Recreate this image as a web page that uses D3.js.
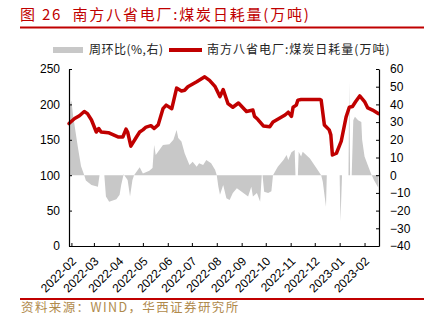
<!DOCTYPE html>
<html><head><meta charset="utf-8">
<script src="https://cdn.jsdelivr.net/npm/d3@7"></script>
<style>
html,body{margin:0;padding:0;background:#fff;}
svg{display:block;}
</style>
</head><body>
<svg id="chart" width="424" height="322"></svg>
<script>
const titleText = "图 26  南方八省电厂:煤炭日耗量(万吨)";
const sourceText = "资料来源：WIND，华西证券研究所";
const legendWow = "周环比(%,右)";
const legendCoal = "南方八省电厂:煤炭日耗量(万吨)";

const leftTicks = [0, 50, 100, 150, 200, 250];
const rightTicks = [-40, -30, -20, -10, 0, 10, 20, 30, 40, 50, 60];
const monthTicks = ["2022-02-01","2022-03-01","2022-04-01","2022-05-01","2022-06-01","2022-07-01","2022-08-01","2022-09-01","2022-10-01","2022-11-01","2022-12-01","2023-01-01","2023-02-01"];

const coalDates = ["2022-01-29","2022-02-05","2022-02-11","2022-02-17","2022-02-21","2022-02-26","2022-03-04","2022-03-07","2022-03-10","2022-03-19","2022-03-31","2022-04-06","2022-04-10","2022-04-12","2022-04-16","2022-04-23","2022-04-27","2022-05-01","2022-05-05","2022-05-11","2022-05-15","2022-05-20","2022-05-26","2022-05-30","2022-06-06","2022-06-12","2022-06-18","2022-06-22","2022-06-26","2022-07-07","2022-07-17","2022-07-23","2022-07-30","2022-08-05","2022-08-09","2022-08-15","2022-08-21","2022-08-28","2022-09-07","2022-09-15","2022-09-17","2022-09-21","2022-09-28","2022-10-06","2022-10-10","2022-10-25","2022-10-29","2022-11-02","2022-11-04","2022-11-08","2022-11-10","2022-11-14","2022-12-07","2022-12-09","2022-12-13","2022-12-19","2022-12-21","2022-12-23","2022-12-28","2023-01-03","2023-01-09","2023-01-13","2023-01-17","2023-01-21","2023-01-26","2023-02-01","2023-02-05","2023-02-11","2023-02-18"];
const coalValues = [173,180,184,190,187,178,161,166,161,160,154,154,165,161,141,154,161,164,168,170,166,171,194,199,194,223,219,220,225,232,239,234,225,211,221,201,196,202,190,192,183,179,169.5,168.5,175,185,189,183,196,199,206,207,207,206,171,164,157,128.5,131,148,182,196,197,204,212,204,195,192,187];

const wowDates = ["2022-01-29","2022-02-01","2022-02-03","2022-02-09","2022-02-13","2022-02-17","2022-02-19","2022-02-26","2022-03-06","2022-03-08","2022-03-14","2022-03-16","2022-03-20","2022-03-29","2022-04-02","2022-04-04","2022-04-07","2022-04-12","2022-04-15","2022-04-18","2022-04-20","2022-04-27","2022-05-01","2022-05-09","2022-05-13","2022-05-15","2022-05-17","2022-05-26","2022-06-03","2022-06-08","2022-06-12","2022-06-14","2022-06-18","2022-06-22","2022-06-28","2022-07-02","2022-07-07","2022-07-10","2022-07-15","2022-07-19","2022-07-25","2022-07-30","2022-08-01","2022-08-03","2022-08-05","2022-08-09","2022-08-13","2022-08-17","2022-08-21","2022-08-26","2022-09-01","2022-09-09","2022-09-13","2022-09-15","2022-09-20","2022-09-24","2022-09-26","2022-09-27","2022-09-29","2022-10-04","2022-10-08","2022-10-10","2022-10-16","2022-10-23","2022-10-27","2022-10-29","2022-11-02","2022-11-06","2022-11-07","2022-11-10","2022-11-11","2022-11-14","2022-11-16","2022-11-25","2022-12-03","2022-12-09","2022-12-11","2022-12-15","2022-12-16","2023-01-01","2023-01-02","2023-01-04","2023-01-12","2023-01-13","2023-01-14","2023-01-16","2023-01-18","2023-01-20","2023-01-24","2023-01-28","2023-01-29","2023-02-01","2023-02-05","2023-02-09","2023-02-13","2023-02-18"];
const wowValues = [38,42,34,16,5,0,-3,-5.5,-6.5,0,0,-12,-15,-13.6,-11,-5.5,0.5,-2.7,-12,-2.7,0,4.5,1,2.5,4,17,11.4,17,17.5,20,25.5,21,19,12.4,5.8,7.6,4.8,6.7,5.8,8.6,6.7,3,0,-6.5,-11,-5.5,-13,-14,-10,-7.4,-9.3,-12,-6.5,-12,-10,-15,0,0,-9.3,-10,-9,0,4.8,8.6,11.4,8.6,13,14.2,0,0,13.3,10.5,13.3,9.5,4,0,-3.7,-17.8,0,0,-26,0,0,53,0,0,31,33,31,30,20,10.5,5.8,1,-3,-7];

const W = 424, H = 322;
const m = {left: 69, right: 379, top: 69, bottom: 246};
const parse = d3.timeParse("%Y-%m-%d");

const svg = d3.select("#chart");
const red = "#c00000";
const axisFont = "'Liberation Sans', Arial, sans-serif";
const cjkFont = "'Noto Sans CJK SC', sans-serif";

const x = d3.scaleTime().domain([parse("2022-01-29"), parse("2023-02-19")]).range([m.left, m.right]);
const yL = d3.scaleLinear().domain([0, 250]).range([m.bottom, m.top]);
const yR = d3.scaleLinear().domain([-40, 60]).range([m.bottom, m.top]);

// title
svg.append("text").attr("x", 20).attr("y", 20)
  .attr("font-family", cjkFont).attr("font-size", 15).attr("fill", red)
  .attr("letter-spacing", 1.8).style("white-space", "pre")
  .text(titleText);
svg.append("rect").attr("x", 20).attr("y", 26.5).attr("width", 404).attr("height", 2).attr("fill", red);

// legend
svg.append("rect").attr("x", 53).attr("y", 47).attr("width", 30).attr("height", 6).attr("fill", "#c8c8c8");
svg.append("text").attr("x", 89).attr("y", 54).attr("font-family", cjkFont).attr("font-size", 12)
  .attr("fill", "#222").attr("letter-spacing", 0.5).text(legendWow);
svg.append("line").attr("x1", 169).attr("x2", 202).attr("y1", 50).attr("y2", 50)
  .attr("stroke", red).attr("stroke-width", 4);
svg.append("text").attr("x", 207).attr("y", 54).attr("font-family", cjkFont).attr("font-size", 12)
  .attr("fill", "#222").attr("letter-spacing", 1).text(legendCoal);

// area (right axis)
const wow = wowDates.map((d, i) => ({date: parse(d), v: wowValues[i]}));
svg.append("path").datum(wow)
  .attr("fill", "#c8c8c8")
  .attr("d", d3.area().x(d => x(d.date)).y0(yR(0)).y1(d => yR(d.v)));

// line (left axis)
const coal = coalDates.map((d, i) => ({date: parse(d), v: coalValues[i]}));
svg.append("path").datum(coal)
  .attr("fill", "none").attr("stroke", red).attr("stroke-width", 3.5)
  .attr("stroke-linejoin", "round").attr("stroke-linecap", "round")
  .attr("d", d3.line().x(d => x(d.date)).y(d => yL(d.v)));

// axes
const gL = svg.append("g").attr("transform", `translate(${m.left},0)`)
  .call(d3.axisLeft(yL).tickValues(leftTicks).tickSize(-3).tickSizeOuter(0).tickPadding(9));
const gR = svg.append("g").attr("transform", `translate(${m.right},0)`)
  .call(d3.axisRight(yR).tickValues(rightTicks).tickSize(-3).tickSizeOuter(0).tickPadding(11));
const gB = svg.append("g").attr("transform", `translate(0,${m.bottom})`)
  .call(d3.axisBottom(x).tickValues(monthTicks.map(parse)).tickFormat(d3.timeFormat("%Y-%m")).tickSize(-3).tickSizeOuter(0));

[gL, gR, gB].forEach(g => {
  g.selectAll("text").attr("font-family", axisFont).attr("font-size", 12).attr("fill", "#000");
  g.selectAll("line").attr("stroke", "#000");
  g.select(".domain").attr("stroke", "#000").attr("stroke-width", 1.2);
});
gB.selectAll(".tick text")
  .attr("text-anchor", "end").attr("x", 0).attr("y", 0).attr("dy", 0)
  .attr("transform", "translate(5,16) rotate(-45)");

// footer
svg.append("rect").attr("x", 20).attr("y", 298).attr("width", 404).attr("height", 2).attr("fill", red);
svg.append("text").attr("x", 21).attr("y", 312).attr("font-family", cjkFont).attr("font-size", 12.5)
  .attr("fill", "#b08a4c").attr("letter-spacing", 1.4).text(sourceText);
</script>
</body></html>
